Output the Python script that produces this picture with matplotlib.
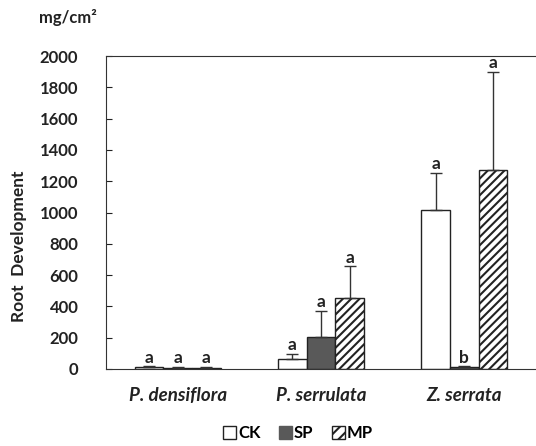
import matplotlib.pyplot as plt
import numpy as np
from matplotlib.patches import Patch

plt.rcParams['font.family'] = ['Lato', 'DejaVu Sans']
plt.rcParams['hatch.linewidth'] = 1.5

species = ["P. densiflora", "P. serrulata", "Z. serrata"]
treatments = ["CK", "SP", "MP"]
ck_mean = [10, 65, 1015]
ck_err = [5, 30, 240]
sp_mean = [6, 205, 10]
sp_err = [3, 165, 5]
mp_mean = [6, 450, 1270]
mp_err = [3, 205, 630]
ck_letters = ["a", "a", "a"]
sp_letters = ["a", "a", "b"]
mp_letters = ["a", "a", "a"]
yticks = np.arange(0, 2001, 200)

fig = plt.figure(figsize=(5.36, 4.46), dpi=100)
ax = fig.add_axes([0.198, 0.173, 0.802, 0.701])

x = np.arange(len(species))
w = 0.2
series = [
    (ck_mean, ck_err, ck_letters, dict(color="white", hatch=None)),
    (sp_mean, sp_err, sp_letters, dict(color="#595959", hatch=None)),
    (mp_mean, mp_err, mp_letters, dict(color="white", hatch="////")),
]
for i, (m, e, lets, st) in enumerate(series):
    xs = x + (i - 1) * w
    ax.bar(xs, m, w, color=st["color"], edgecolor="#222222", linewidth=1.0,
           hatch=st["hatch"], zorder=2)
    ax.errorbar(xs, m, yerr=[np.zeros(len(m)), e], fmt="none", ecolor="#333333",
                elinewidth=1.0, capsize=4, capthick=1.0, zorder=3)
    for xi, mi, ei, l in zip(xs, m, e, lets):
        ax.text(xi, mi + ei + 6, l, ha="center", va="bottom", fontsize=12.5,
                fontweight="bold", color="#222222")

ax.set_xlim(-0.5, 2.5)
ax.set_ylim(0, 2000)
ax.set_yticks(yticks)
ax.set_yticklabels([str(v) for v in yticks], fontsize=12, fontweight="bold")
ax.tick_params(axis="y", direction="in", length=4, pad=20, colors="#222222")
ax.set_xticks(x)
ax.set_xticklabels(species, fontsize=13.5, fontweight="bold", style="italic")
ax.tick_params(axis="x", length=0, pad=13, colors="#222222")
for sp in ["left", "top", "bottom"]:
    ax.spines[sp].set_color("#333333")
ax.spines["right"].set_visible(False)

fig.text(19 / 536, 1 - 246 / 446, "Root  Development", rotation=90, ha="center",
         va="center", fontsize=12.5, fontweight="bold", color="#222222")
fig.text(68 / 536, 1 - 18 / 446, "mg/cm²", ha="center", va="center",
         fontsize=12, fontweight="bold", color="#222222")

handles = [
    Patch(facecolor="white", edgecolor="#222222", label="CK"),
    Patch(facecolor="#595959", edgecolor="#595959", label="SP"),
    Patch(facecolor="white", edgecolor="#222222", hatch="///", label="MP"),
]
fig.legend(handles=handles, loc="center", bbox_to_anchor=(0.556, 0.029), ncol=3,
           frameon=False, handlelength=0.8, handleheight=0.8, handletextpad=0.1,
           columnspacing=1.1, prop={"weight": "bold", "size": 12})

fig.savefig("out.png", dpi=100)
